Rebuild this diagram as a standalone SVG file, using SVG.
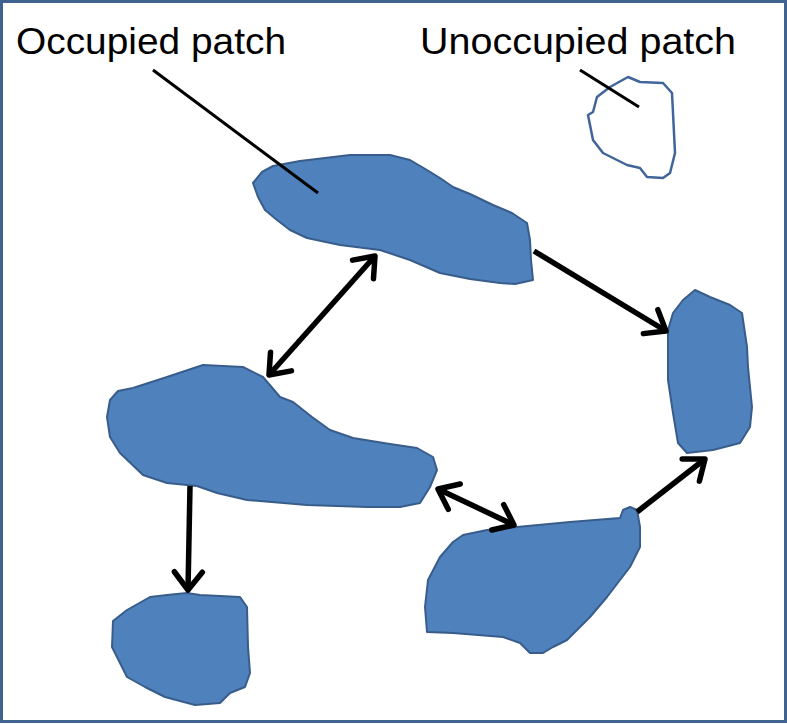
<svg xmlns="http://www.w3.org/2000/svg" width="787" height="724" viewBox="0 0 787 724">
<style>
.patch{fill:#4f81bd;stroke:#385d8a;stroke-width:2;stroke-linejoin:round}
.empty{fill:none;stroke:#41659a;stroke-width:2.5;stroke-linejoin:round}
.lbl{font-family:"Liberation Sans",Arial,sans-serif;font-size:37px;fill:#000}
.lead{stroke:#000;stroke-width:3;fill:none}
.arr{stroke:#000;stroke-width:5.5;fill:none}
</style>
<defs>
<marker id="head" markerUnits="userSpaceOnUse" viewBox="-26 -18 30 36" refX="0" refY="0" markerWidth="30" markerHeight="36" orient="auto-start-reverse">
<path d="M-18,-14 L0,0 L-18,14" fill="none" stroke="#000" stroke-width="5.5" stroke-linecap="round" stroke-linejoin="round"/>
</marker>
</defs>
<rect x="1.5" y="1.5" width="784" height="720" fill="#fff" stroke="#3f6291" stroke-width="3"/>
<g id="patch-unoccupied">
<path class="empty" d="M628,77 L640,82 L663,83 L672,93 L673,113 L675,153 L670,173 L663,178 L647,177 L640,168 L627,165 L603,153 L593,140 L588,115 L593,112 L597,97 L610,87 Z"/>
</g>
<g id="patch-top">
<path class="patch" d="M253,183 L262,172 L273,166 L300,161 L325,158 L350,155 L390,155 L410,160 L427,170 L440,178 L453,187 L470,194 L493,205 L512,213 L527,223 L530,240 L531,260 L533,280 L515,284 L500,283 L470,279 L440,273 L410,260 L380,250 L340,245 L307,238 L290,230 L277,220 L265,210 L258,197 Z"/>
</g>
<g id="patch-left">
<path class="patch" d="M107,417 L110,400 L118,391 L133,388 L167,377 L203,365 L243,367 L263,377 L280,397 L293,402 L312,417 L330,430 L353,438 L390,444 L417,448 L433,457 L437,470 L430,487 L420,503 L400,507 L367,507 L307,505 L247,500 L217,493 L197,486 L167,483 L143,475 L120,453 L110,437 Z"/>
</g>
<g id="patch-right">
<path class="patch" d="M695,290 L710,297 L730,305 L742,313 L747,347 L748,367 L752,407 L750,427 L740,443 L713,450 L687,453 L678,443 L673,413 L668,380 L668,330 L673,313 L683,300 Z"/>
</g>
<g id="patch-bottom-right">
<path class="patch" d="M463,535 L487,530 L517,527 L570,522 L620,518 L623,510 L630,507 L637,510 L640,527 L640,547 L630,567 L620,580 L607,597 L590,617 L567,640 L553,647 L543,653 L530,653 L520,643 L503,637 L453,633 L427,632 L425,607 L428,580 L440,557 L453,542 Z"/>
</g>
<g id="patch-bottom-left">
<path class="patch" d="M113,621 L127,610 L150,597 L167,595 L187,593 L200,595 L240,597 L247,607 L248,647 L250,673 L245,687 L230,693 L220,703 L195,705 L165,697 L145,687 L127,677 L120,663 L112,647 Z"/>
</g>
<g id="label-occupied">
<text class="lbl" x="16" y="54" textLength="270" lengthAdjust="spacingAndGlyphs">Occupied patch</text>
<line class="lead" x1="153" y1="70" x2="318" y2="193"/>
</g>
<g id="label-unoccupied">
<text class="lbl" x="420" y="54" textLength="316" lengthAdjust="spacingAndGlyphs">Unoccupied patch</text>
<line class="lead" x1="580" y1="70" x2="639" y2="107"/>
</g>
<g id="connectors">
<line class="arr" x1="375" y1="256" x2="269" y2="375" marker-start="url(#head)" marker-end="url(#head)"/>
<line class="arr" x1="534" y1="251" x2="666" y2="331" marker-end="url(#head)"/>
<line class="arr" x1="637" y1="512" x2="705" y2="459" marker-end="url(#head)"/>
<line class="arr" x1="438" y1="489" x2="514" y2="525" marker-start="url(#head)" marker-end="url(#head)"/>
<line class="arr" x1="190" y1="486" x2="188" y2="590" marker-end="url(#head)"/>
</g>
</svg>
